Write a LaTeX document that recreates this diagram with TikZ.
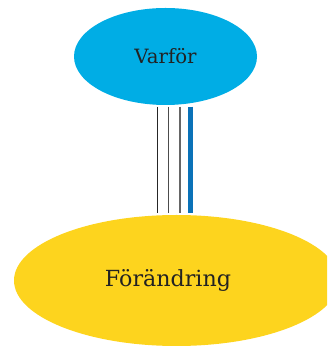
\documentclass[tikz,border=0pt]{standalone}
\usepackage{fontspec}
\setmainfont{DejaVu Serif}
\usetikzlibrary{shapes.geometric}
\definecolor{skyblue}{HTML}{00ADE5}
\definecolor{sunyellow}{HTML}{FDD41E}
\definecolor{deepblue}{HTML}{0A72B8}
\definecolor{inkgray}{HTML}{222222}

\begin{document}
\begin{tikzpicture}
[x=1pt,y=1pt,
bubble/.style={ellipse,inner sep=0pt,text=inkgray},
strand/.style={line width=1.3pt}]

\clip (0,0) rectangle (327,347);

\node[bubble,fill=skyblue,minimum width=183pt,minimum height=97pt,font=\fontsize{19.7}{22}\selectfont] (varfor) at (165.5,290.5) {Varför};

\node[bubble,fill=sunyellow,minimum width=325pt,minimum height=131pt] (forandring) at (176.5,66.5)
 [label={[xshift=-8.5pt,text=inkgray,font=\fontsize{22.2}{25}\selectfont]center:Förändring}] {};

\foreach \n/\dx/\col/\w in {a/-7.8/black!85/1.3,b/3.2/black!70/1.3,c/14.5/black!60/1.3,d/25.3/deepblue/5}{
  \path (varfor.south) ++(\dx,-1.5) coordinate (top\n);
  \path (top\n |- forandring.north) ++(0,2) coordinate (bot\n);
  \draw [strand,draw=\col,line width=\w pt] (top\n) -- (bot\n);
}
\end{tikzpicture}
\end{document}
